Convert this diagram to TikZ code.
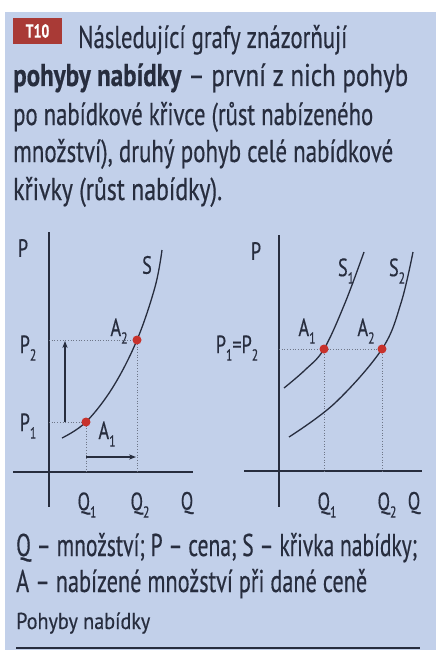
\documentclass[tikz,border=0pt]{standalone}
\usepackage{fontspec}
\usepackage{graphicx}
\setmainfont{PT Sans}
\newfontfamily\condfont[FakeStretch=0.73, FakeBold=0.4]{PT Sans}
\usetikzlibrary{positioning, arrows.meta}
\definecolor{pageBlue}{HTML}{C2D0EA}
\definecolor{inkNavy}{HTML}{272D3E}
\definecolor{pointRed}{HTML}{C8322C}
\definecolor{badgeRed}{HTML}{A93A36}
\definecolor{guideGrey}{HTML}{6E7688}
\newcommand{\idx}[1]{\raisebox{-0.3em}{\fontsize{16}{16}\selectfont #1}}
\newcommand{\fitline}[2]{\resizebox{#1}{\height}{#2}}
\tikzset{
  bodytext/.style={anchor=base west, inner sep=0pt, text=inkNavy, font=\condfont\fontsize{31.5}{36}\selectfont},
  axislabel/.style={text=inkNavy, inner sep=0pt, font=\condfont\fontsize{25}{25}\selectfont},
  axisline/.style={inkNavy, line width=1.6pt},
  curveline/.style={inkNavy, line width=1.3pt},
  guide/.style={guideGrey, dotted, line width=0.7pt},
  market/.style={circle, fill=pointRed, inner sep=0pt, minimum size=9pt},
  moveArrow/.style={-{Stealth[length=7pt]}, inkNavy, line width=1.2pt}
}

\begin{document}
\begin{tikzpicture}[x=1pt, y=-1pt]
  \useasboundingbox (0,0) rectangle (436,650);
  \fill[white] (0,0) rectangle (436,650);
  \fill[pageBlue] (5,12) rectangle (436,650);

  % header
  \node[fill=badgeRed, minimum width=49pt, minimum height=26pt, inner sep=0pt,
        text=white, font=\condfont\bfseries\fontsize{19}{19}\selectfont] (badge) at (37.5,31) {T10};
  \node[bodytext] (line1) at (78,48) {\fitline{269pt}{Následující grafy znázorňují}};
  \node[bodytext] (line2) at (13,86) {\fitline{395pt}{\textbf{pohyby nabídky} – první z nich pohyb}};
  \node[bodytext] (line3) at (13,125) {\fitline{360pt}{po nabídkové křivce (růst nabízeného}};
  \node[bodytext] (line4) at (13,162) {\fitline{380pt}{množství), druhý pohyb celé nabídkové}};
  \node[bodytext] (line5) at (13,200) {\fitline{209pt}{křivky (růst nabídky).}};

  % left graph: movement along the curve
  \coordinate (lO) at (49,472);
  \coordinate (lTop) at (49,232);
  \coordinate (lBot) at (49,507);
  \coordinate (lLeft) at (13,472);
  \coordinate (lRight) at (193,472);
  \draw[axisline] (lTop) -- (lBot);
  \draw[axisline] (lLeft) -- (lRight);
  \coordinate (lA1) at (86,422);
  \coordinate (lA2) at (137,340);
  \draw[guide] (lA2 -| lO) -- (lA2) -- (lA2 |- lO);
  \draw[guide] (lA1 -| lO) -- (lA1) -- (lA1 |- lO);
  \draw[curveline] plot[smooth, tension=0.6] coordinates
    {(62,438) (86,422) (113,387) (137,340) (155,287) (162,250)};
  \node[market] (lDot1) at (lA1) {};
  \node[market] (lDot2) at (lA2) {};
  \coordinate (lUpFrom) at (65,422);
  \coordinate (lUpTo) at (65,341);
  \coordinate (lRightFrom) at (86,457);
  \coordinate (lRightTo) at (136,457);
  \draw[moveArrow] (lUpFrom) -- (lUpTo);
  \draw[moveArrow] (lRightFrom) -- (lRightTo);
  \node[axislabel] (lP) at (23,248) {P};
  \node[axislabel] (lS) at (147,265) {S};
  \node[axislabel] (lA2lab) at (119,331) {A\idx{2}};
  \node[axislabel] (lA1lab) at (107,434) {A\idx{1}};
  \node[axislabel] (lP2) at (28,348) {P\idx{2}};
  \node[axislabel] (lP1) at (28,426) {P\idx{1}};
  \node[axislabel] (lQ1) at (87,505) {Q\idx{1}};
  \node[axislabel] (lQ2) at (140,505) {Q\idx{2}};
  \node[axislabel] (lQ) at (187,503) {Q};

  % right graph: shift of the whole curve
  \coordinate (rO) at (279,471);
  \coordinate (rTop) at (279,235);
  \coordinate (rBot) at (279,507);
  \coordinate (rLeft) at (244,471);
  \coordinate (rRight) at (422,471);
  \draw[axisline] (rTop) -- (rBot);
  \draw[axisline] (rLeft) -- (rRight);
  \coordinate (rA1) at (324,349);
  \coordinate (rA2) at (382,349);
  \draw[guide] (rA2 -| rO) -- (rA2);
  \draw[guide] (rA1) -- (rA1 |- rO);
  \draw[guide] (rA2) -- (rA2 |- rO);
  \draw[curveline] plot[smooth, tension=0.6] coordinates
    {(284,388) (305,370) (324,349) (345,303) (364,252)};
  \draw[curveline] plot[smooth, tension=0.6] coordinates
    {(289,437) (335,403) (382,349) (401,303) (413,252)};
  \node[market] (rDot1) at (rA1) {};
  \node[market] (rDot2) at (rA2) {};
  \node[axislabel] (rP) at (256,251) {P};
  \node[axislabel] (rS1) at (346,271) {S\idx{1}};
  \node[axislabel] (rS2) at (397,271) {S\idx{2}};
  \node[axislabel] (rA1lab) at (307,331) {A\idx{1}};
  \node[axislabel] (rA2lab) at (366,331) {A\idx{2}};
  \node[axislabel] (rP12) at (237,348) {P\idx{1}=P\idx{2}};
  \node[axislabel] (rQ1) at (327,505) {Q\idx{1}};
  \node[axislabel] (rQ2) at (387,505) {Q\idx{2}};
  \node[axislabel] (rQ) at (414,503) {Q};

  % legend
  \node[bodytext] (legend1) at (16,556) {\fitline{401pt}{Q – množství; P – cena; S – křivka nabídky;}};
  \node[bodytext] (legend2) at (16,592) {\fitline{351pt}{A – nabízené množství při dané ceně}};
  \node[bodytext, font=\condfont\fontsize{23}{26}\selectfont] (caption) at (16,629) {\fitline{134pt}{Pohyby nabídky}};
  \coordinate (ruleL) at (16,648);
  \coordinate (ruleR) at (420,648);
  \draw[inkNavy, line width=2pt] (ruleL) -- (ruleR);
\end{tikzpicture}
\end{document}
